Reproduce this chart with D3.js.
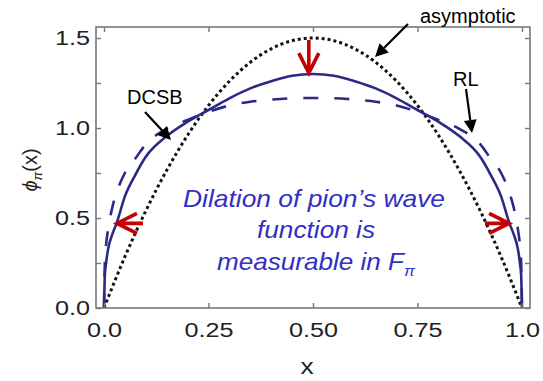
<!DOCTYPE html>
<html>
<head>
<meta charset="utf-8">
<script src="https://cdn.jsdelivr.net/npm/d3@7"></script>
<style>
  body { margin: 0; background: #fff; }
  svg { display: block; font-family: "Liberation Sans", Arial, sans-serif; }
</style>
</head>
<body>
<div id="chart"></div>
<script>
const xs = [0, 0.002, 0.005, 0.01, 0.02, 0.03, 0.05, 0.075, 0.1, 0.15, 0.2, 0.25, 0.3, 0.35, 0.4, 0.45, 0.5,
  0.55, 0.6, 0.65, 0.7, 0.75, 0.8, 0.85, 0.9, 0.925, 0.95, 0.97, 0.98, 0.99, 0.995, 0.998, 1];
const dcsb = [0, 0.18, 0.25, 0.33, 0.41, 0.47, 0.62, 0.74, 0.84, 0.955, 1.035, 1.10, 1.165, 1.22, 1.26, 1.29, 1.30,
  1.29, 1.26, 1.22, 1.165, 1.10, 1.035, 0.955, 0.84, 0.74, 0.62, 0.47, 0.41, 0.33, 0.25, 0.18, 0];
const rl = [0, 0.25, 0.35, 0.44, 0.56, 0.64, 0.75, 0.83, 0.91, 0.995, 1.045, 1.09, 1.125, 1.146, 1.158, 1.165, 1.167,
  1.165, 1.158, 1.146, 1.125, 1.09, 1.045, 0.995, 0.91, 0.83, 0.75, 0.64, 0.56, 0.44, 0.35, 0.25, 0];

// asymptotic curve
const asyX = [0, 0.05, 0.1, 0.15, 0.2, 0.25, 0.3, 0.35, 0.4, 0.45, 0.5, 0.55, 0.6, 0.65, 0.7, 0.75, 0.8, 0.85, 0.9, 0.95, 1];
const asym = [0, 0.285, 0.54, 0.765, 0.96, 1.125, 1.26, 1.365, 1.44, 1.485, 1.5, 1.485, 1.44, 1.365, 1.26, 1.125, 0.96, 0.765, 0.54, 0.285, 0];

const xTicks = [0, 0.25, 0.5, 0.75, 1];
const xTickLabels = ['0.0', '0.25', '0.50', '0.75', '1.0'];
const yTicks = [0, 0.25, 0.5, 0.75, 1, 1.25, 1.5];
const yTickLabels = {0: '0.0', 0.5: '0.5', 1: '1.0', 1.5: '1.5'};

const W = 543, H = 381;
const frame = {left: 96, right: 530, top: 27, bottom: 308};

const x = d3.scaleLinear().domain([0, 1]).range([104, 522]);
const y = d3.scaleLinear().domain([0, 1.5]).range([308, 38]);

const svg = d3.select('#chart').append('svg')
  .attr('width', W)
  .attr('height', H);

const navy = '#2a2a86';
const red = '#c40000';
const frameCol = '#777';

// curves
const line = d3.line().curve(d3.curveMonotoneX);

svg.append('path')
  .attr('d', line(asyX.map((v, i) => [x(v), y(asym[i])])))
  .attr('fill', 'none')
  .attr('stroke', '#111')
  .attr('stroke-width', 3)
  .attr('stroke-dasharray', '3,3');

svg.append('path')
  .attr('d', line(xs.map((v, i) => [x(v), y(rl[i])])))
  .attr('fill', 'none')
  .attr('stroke', navy)
  .attr('stroke-width', 2.6)
  .attr('stroke-dasharray', '15,16');

svg.append('path')
  .attr('d', line(xs.map((v, i) => [x(v), y(dcsb[i])])))
  .attr('fill', 'none')
  .attr('stroke', navy)
  .attr('stroke-width', 2.6);

// frame
svg.append('rect')
  .attr('x', frame.left)
  .attr('y', frame.top)
  .attr('width', frame.right - frame.left)
  .attr('height', frame.bottom - frame.top)
  .attr('fill', 'none')
  .attr('stroke', frameCol)
  .attr('stroke-width', 1.6);

// axes, ticks point inward
const stretch = 'scale(1.2,1)';

const xAxis = svg.append('g')
  .attr('transform', `translate(0,${frame.bottom})`)
  .call(d3.axisBottom(x).tickValues(xTicks).tickSize(-5).tickPadding(14)
    .tickFormat((d, i) => xTickLabels[i]));

const yAxis = svg.append('g')
  .attr('transform', `translate(${frame.left},0)`)
  .call(d3.axisLeft(y).tickValues(yTicks).tickSize(-5).tickPadding(5)
    .tickFormat(d => yTickLabels[d] || ''));

const topAxis = svg.append('g')
  .attr('transform', `translate(0,${frame.top})`)
  .call(d3.axisTop(x).tickValues(xTicks).tickSize(-5).tickFormat(''));

const rightAxis = svg.append('g')
  .attr('transform', `translate(${frame.right},0)`)
  .call(d3.axisRight(y).tickValues(yTicks).tickSize(-5).tickFormat(''));

[xAxis, yAxis, topAxis, rightAxis].forEach(g => {
  g.select('.domain').remove();
  g.selectAll('.tick line').attr('stroke', frameCol).attr('stroke-width', 1.4);
  g.selectAll('.tick text')
    .attr('fill', '#222')
    .attr('font-size', 21)
    .attr('font-family', '"Liberation Sans", Arial, sans-serif')
    .attr('transform', stretch);
});

// axis titles
svg.append('text')
  .attr('transform', `translate(307,374) ${stretch}`)
  .attr('text-anchor', 'middle')
  .attr('font-size', 22)
  .attr('fill', '#222')
  .text('x');

const yl = svg.append('text')
  .attr('transform', 'translate(37,170) rotate(-90)')
  .attr('text-anchor', 'middle')
  .attr('font-size', 20)
  .attr('fill', '#222');
yl.append('tspan').attr('font-style', 'italic').text('\u03d5');
yl.append('tspan').attr('font-style', 'italic').attr('font-size', 13).attr('dy', 5).text('\u03c0');
yl.append('tspan').attr('dy', -5).text('(x)');

// black annotation arrows
function arrow(x1, y1, x2, y2) {
  const a = Math.atan2(y2 - y1, x2 - x1);
  const len = 13, hw = 6.5;
  const bx = x2 - len * Math.cos(a), by = y2 - len * Math.sin(a);
  svg.append('line')
    .attr('x1', x1).attr('y1', y1).attr('x2', bx).attr('y2', by)
    .attr('stroke', '#000').attr('stroke-width', 2.2);
  svg.append('path')
    .attr('d', `M${x2},${y2}L${bx - hw * Math.sin(a)},${by + hw * Math.cos(a)}L${bx + hw * Math.sin(a)},${by - hw * Math.cos(a)}Z`)
    .attr('fill', '#000');
}

const labels = [
  {t: 'asymptotic', x: 420, y: 23},
  {t: 'DCSB', x: 127, y: 104},
  {t: 'RL', x: 453, y: 86}
];
svg.selectAll('.lbl').data(labels).join('text')
  .attr('class', 'lbl')
  .attr('x', d => d.x)
  .attr('y', d => d.y)
  .attr('font-size', 20)
  .attr('fill', '#000')
  .text(d => d.t);

arrow(408, 24, 375, 57);
arrow(145, 112, 171, 140);
arrow(466, 89, 472, 133);

// red arrows (open heads)
function redArrow(x1, y1, x2, y2) {
  const a = Math.atan2(y2 - y1, x2 - x1);
  const len = 20, hw = 10;
  const bx = x2 - len * Math.cos(a), by = y2 - len * Math.sin(a);
  svg.append('path')
    .attr('d', `M${x1},${y1}L${x2},${y2}M${bx - hw * Math.sin(a)},${by + hw * Math.cos(a)}L${x2},${y2}L${bx + hw * Math.sin(a)},${by - hw * Math.cos(a)}`)
    .attr('fill', 'none')
    .attr('stroke', red)
    .attr('stroke-width', 3.6)
    .attr('stroke-linecap', 'butt')
    .attr('stroke-linejoin', 'miter');
}
redArrow(x(0.49), 40, x(0.49), y(1.305));
redArrow(143, y(0.47), x(0.031), y(0.47));
redArrow(485, y(0.47), x(0.969), y(0.47));

// blue note
const blue = '#3030c4';
const note = svg.append('g')
  .attr('fill', blue)
  .attr('font-style', 'italic')
  .attr('font-size', 24)
  .attr('text-anchor', 'middle');
note.append('text').attr('x', 314).attr('y', 207)
  .attr('textLength', 262).attr('lengthAdjust', 'spacingAndGlyphs')
  .text('Dilation of pion\u2019s wave');
note.append('text').attr('x', 316).attr('y', 238)
  .attr('textLength', 118).attr('lengthAdjust', 'spacingAndGlyphs')
  .text('function is');
const l3 = note.append('text').attr('x', 316).attr('y', 270)
  .attr('textLength', 198).attr('lengthAdjust', 'spacingAndGlyphs');
l3.append('tspan').text('measurable in F');
l3.append('tspan').attr('font-size', 15).attr('dy', 6).text('\u03c0');
</script>
</body>
</html>
